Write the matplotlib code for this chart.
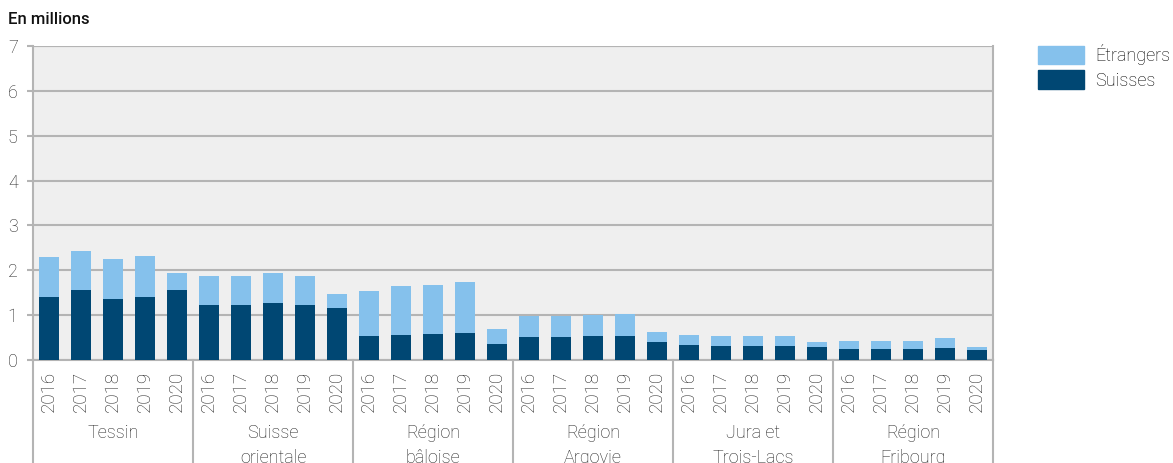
import numpy as np
import matplotlib.pyplot as plt
from matplotlib.patches import Patch

plt.rcParams['font.family'] = ['Roboto', 'DejaVu Sans']

# -----------------------------
# Data (millions)
# -----------------------------
regions = ["Tessin", "Suisse\norientale", "Région\nbâloise", "Région\nArgovie",
           "Jura et\nTrois-Lacs", "Région\nFribourg"]
years = ["2016", "2017", "2018", "2019", "2020"]

totals = [2.29, 2.44, 2.26, 2.31, 1.93,
          1.88, 1.88, 1.93, 1.88, 1.48,
          1.53, 1.64, 1.68, 1.73, 0.70,
          0.97, 0.99, 1.01, 1.03, 0.63,
          0.565, 0.54, 0.54, 0.54, 0.41,
          0.43, 0.43, 0.43, 0.48, 0.30]
suisses = [1.41, 1.55, 1.37, 1.41, 1.55,
           1.235, 1.235, 1.26, 1.235, 1.15,
           0.54, 0.565, 0.59, 0.61, 0.36,
           0.52, 0.52, 0.54, 0.54, 0.41,
           0.34, 0.32, 0.32, 0.32, 0.30,
           0.25, 0.25, 0.25, 0.275, 0.23]

totals = np.array(totals)
suisses = np.array(suisses)
etrangers = totals - suisses

c_light = "#85c1ec"
c_dark = "#004773"
grid_c = "#b4b4b4"
txt_c = "#222222"

# -----------------------------
# Figure
# -----------------------------
fig = plt.figure(figsize=(11.73, 4.63), dpi=100)
ax = fig.add_axes([0.0281, 0.2225, 0.8185, 0.678])
ax.set_facecolor("#efefef")

x = np.arange(len(totals))
ax.bar(x, suisses, width=0.65, color=c_dark, zorder=3)
ax.bar(x, etrangers, bottom=suisses, width=0.65, color=c_light, zorder=3)

ax.set_xlim(-0.5, len(totals) - 0.5)
ax.set_ylim(0, 7)
ax.set_yticks(range(8))
ax.yaxis.grid(True, color=grid_c, linewidth=1.5, zorder=1)
ax.tick_params(axis="y", length=4, width=1.5, color=grid_c, pad=7,
               labelsize=13, labelcolor=txt_c)
for lab in ax.get_yticklabels():
    lab.set_fontweight("light")

ax.set_xticks(x)
ax.set_xticklabels(years * len(regions), rotation=90, fontsize=13.5,
                   color=txt_c, fontweight="light")
ax.tick_params(axis="x", length=0, pad=8)

for s in ["left", "right", "bottom"]:
    ax.spines[s].set_color(grid_c)
    ax.spines[s].set_linewidth(1.5)
ax.spines["top"].set_visible(False)
ax.axhline(7, color=grid_c, linewidth=1.5, zorder=1)

# group separators and labels
trans = ax.get_xaxis_transform()
for k in range(len(regions) + 1):
    xs = k * 5 - 0.5
    ax.plot([xs, xs], [0, -0.4], transform=trans, color=grid_c,
            linewidth=1.5, clip_on=False)
for k, name in enumerate(regions):
    ax.text(k * 5 + 2, -0.205, name, transform=trans, ha="center", va="top",
            fontsize=13, color=txt_c, fontweight="light", linespacing=1.45)

fig.text(0.007, 0.957, "En millions", fontsize=12, fontweight="medium",
         color="#111111", va="center")

handles = [Patch(color=c_light), Patch(color=c_dark)]
fig.legend(handles, ["Étrangers", "Suisses"], loc="upper left",
           bbox_to_anchor=(0.885, 0.905), frameon=False,
           handlelength=2.55, handleheight=1.17, handletextpad=0.6,
           labelspacing=0.3, borderaxespad=0, borderpad=0,
           prop={"weight": "light", "size": 13})

fig.savefig("out.png", dpi=100)
